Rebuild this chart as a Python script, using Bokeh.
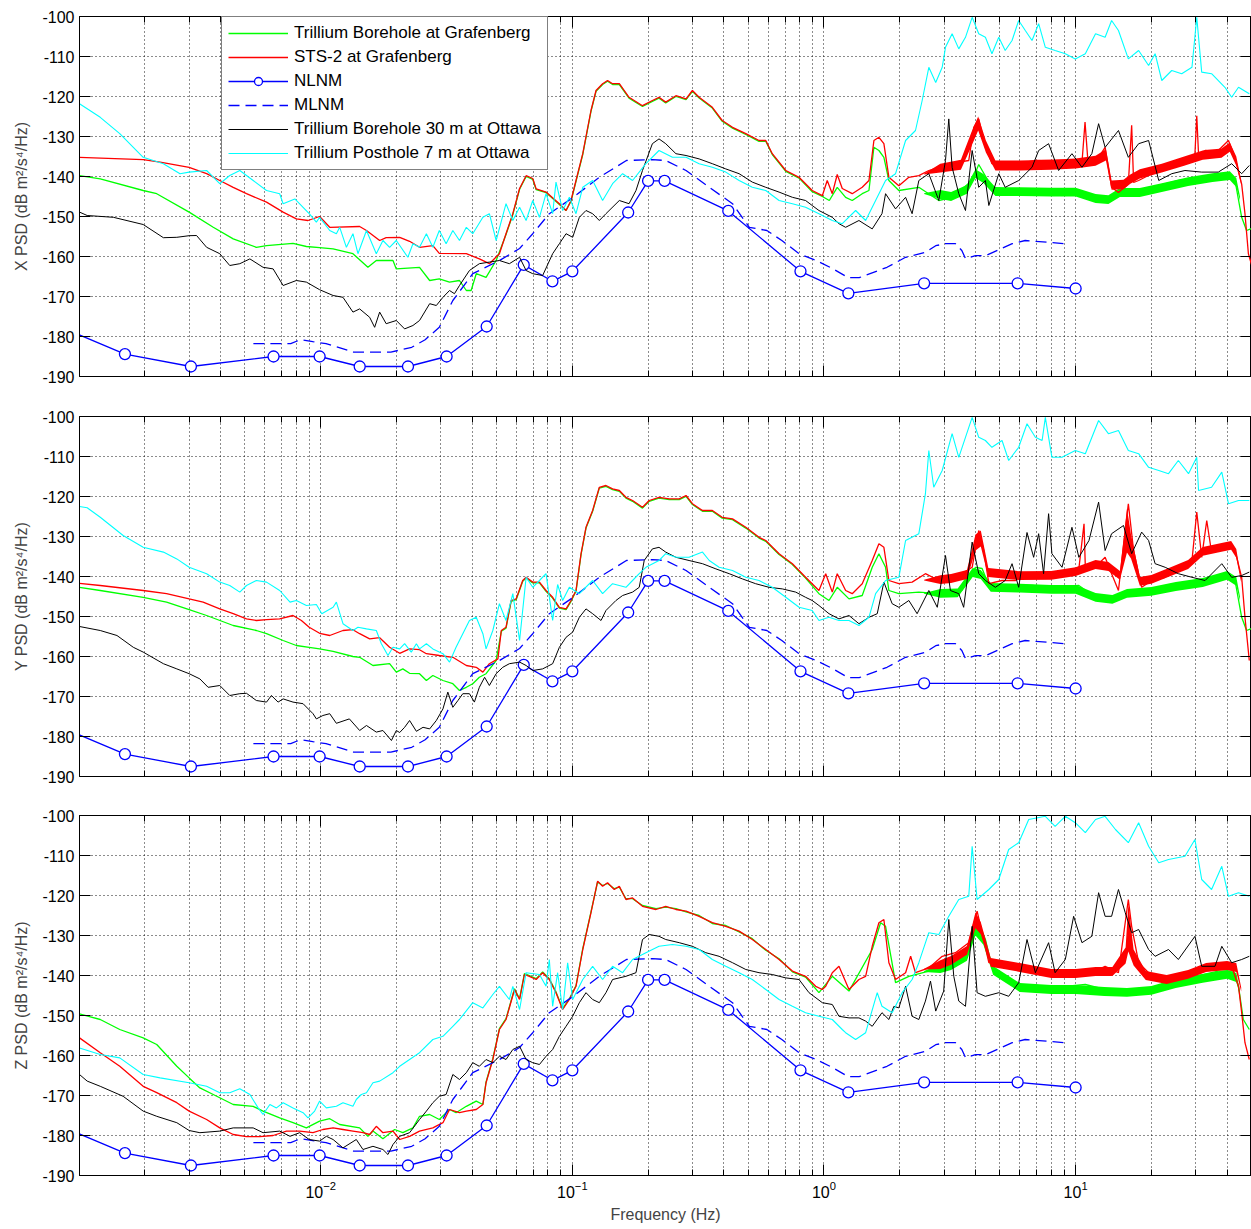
from bokeh.plotting import figure
from bokeh.models import (Range1d, FixedTicker, LogAxis, LinearAxis, Legend, LegendItem,
                          CustomJSTickFormatter)
from bokeh.layouts import column
from bokeh.embed import file_html
from bokeh.resources import INLINE

FONT = "Liberation Sans"

# ---------------- data: (frequency Hz, PSD dB) ----------------
NLNM = [(0.0001, -151.9), (0.001667, -184.4), (0.003049, -187.5), (0.006494, -185.0), (0.009901, -185.0),
        (0.014286, -187.5), (0.022222, -187.5), (0.031646, -185.0), (0.045662, -177.5), (0.064103, -162.1),
        (0.083333, -166.2), (0.1, -163.7), (0.166667, -149.0), (0.2, -141.1), (0.232558, -141.1),
        (0.416667, -148.6), (0.806452, -163.7), (1.25, -169.2), (2.5, -166.7), (5.882353, -166.7), (10.0, -168.0)]

MLNM = [(0.0054, -181.8), (0.0076, -181.8), (0.0083, -180.8), (0.0093, -181.3), (0.0105, -181.8), (0.0135, -183.9),
        (0.0190, -183.9), (0.0230, -182.7), (0.0260, -180.8), (0.0296, -177.7), (0.0335, -171.0), (0.0402, -164.3),
        (0.0513, -161.0), (0.0617, -158.0), (0.0696, -154.3), (0.081, -149.3), (0.1003, -145.3), (0.128, -140.2),
        (0.164, -136.0), (0.208, -135.8), (0.235, -136.0), (0.283, -138.5), (0.35, -142.7), (0.433, -146.8),
        (0.505, -152.7), (0.593, -153.5), (0.68, -156.0), (0.796, -159.3), (0.93, -161.0), (1.08, -163.0),
        (1.25, -165.3), (1.38, -165.3), (1.78, -162.7), (2.11, -160.2), (2.54, -158.9), (2.78, -157.3),
        (3.04, -156.8), (3.33, -156.8), (3.53, -158.5), (3.65, -160.5), (4.0, -159.8), (4.38, -159.8),
        (4.95, -158.3), (5.6, -156.8), (6.3, -156.0), (8.0, -156.5), (9.1, -156.8)]

# ---- X component ----
X_GREEN = [(0.0011, -139.8), (0.00133, -140.6), (0.00197, -143.5), (0.00223, -144.3), (0.0030, -148.9), (0.00374, -152.7),
           (0.00449, -155.6), (0.00555, -157.7), (0.00609, -157.3), (0.00776, -156.7), (0.00877, -157.5), (0.0099, -157.8),
           (0.0112, -158.1), (0.01343, -159.3), (0.0154, -162.7), (0.01663, -161.0), (0.01937, -161.0), (0.01997, -163.1),
           (0.0247, -162.7), (0.0271, -166.0), (0.0296, -165.6), (0.0325, -166.4), (0.0356, -166.0), (0.0379, -168.5),
           (0.0396, -168.5), (0.0415, -164.3), (0.0454, -165.2), (0.0498, -161.0), (0.0545, -154.5), (0.0580, -149.5),
           (0.0617, -143.2), (0.0655, -140.0), (0.0696, -140.7), (0.0718, -143.3), (0.0786, -144.0), (0.0888, -147.0),
           (0.0944, -148.5), (0.0988, -146.2), (0.1034, -141.2), (0.110, -134.5), (0.1186, -123.7), (0.1242, -118.7),
           (0.1319, -117.0), (0.138, -116.2), (0.1445, -117.0), (0.1537, -117.0), (0.168, -120.4), (0.190, -122.5),
           (0.208, -121.2), (0.221, -120.4), (0.235, -121.6), (0.258, -120.0), (0.283, -120.8), (0.300, -118.7),
           (0.319, -120.4), (0.360, -122.9), (0.394, -126.2), (0.433, -127.9), (0.489, -129.5), (0.552, -131.2),
           (0.587, -131.2), (0.623, -134.5), (0.705, -138.7), (0.796, -140.4), (0.898, -143.8), (0.985, -145.0),
           (1.05, -146.0), (1.129, -142.7), (1.219, -145.2), (1.295, -146.0), (1.419, -144.3), (1.509, -143.5),
           (1.579, -132.7), (1.653, -133.5), (1.730, -135.2), (1.811, -141.0), (1.984, -143.5), (2.382, -142.7),
           (2.86, -146.0), (3.23, -145.2), (3.88, -141.0), (4.121, -137.0), (4.65, -142.7), (5.25, -143.0),
           (5.94, -143.8), (6.92, -143.5), (8.05, -143.9), (9.67, -143.5), (11.6, -145.2), (13.1, -146.0),
           (14.8, -143.5), (16.2, -144.3), (20.1, -142.7), (25.6, -141.0), (31.7, -140.2), (39.2, -139.3),
           (43.0, -141.0), (45.7, -150.2), (47.8, -153.5), (50.0, -153.0)]

X_RED = [(0.0011, -135.2), (0.00197, -135.8), (0.0023, -136.4), (0.0030, -137.7), (0.00352, -139.3), (0.00397, -141.0),
         (0.00449, -142.7), (0.00507, -144.3), (0.00609, -146.4), (0.00709, -148.9), (0.0080, -150.6), (0.0089, -151.0),
         (0.0099, -150.0), (0.01086, -152.7), (0.01428, -152.5), (0.0152, -153.5), (0.01715, -156.0), (0.0182, -155.3),
         (0.0206, -155.2), (0.02255, -156.2), (0.0247, -157.7), (0.0279, -157.3), (0.0296, -159.2), (0.0379, -159.3),
         (0.0427, -160.6), (0.0468, -161.8), (0.0513, -159.3), (0.0545, -154.3), (0.0580, -149.3), (0.0617, -143.0),
         (0.0655, -139.8), (0.0696, -140.5), (0.0718, -143.1), (0.0786, -143.9), (0.0888, -146.8), (0.0944, -148.5),
         (0.0988, -146.0), (0.1034, -141.0), (0.110, -134.3), (0.1186, -123.5), (0.1242, -118.5), (0.1319, -116.8),
         (0.138, -116.0), (0.1445, -116.8), (0.1537, -116.8), (0.168, -120.2), (0.190, -122.3), (0.208, -121.0),
         (0.221, -120.2), (0.235, -121.4), (0.258, -119.8), (0.283, -120.6), (0.300, -118.5), (0.319, -120.2),
         (0.360, -122.7), (0.394, -126.0), (0.433, -127.7), (0.489, -129.3), (0.552, -131.0), (0.587, -131.0),
         (0.623, -134.3), (0.705, -138.5), (0.796, -140.2), (0.898, -143.5), (0.985, -144.8), (1.03, -141.0),
         (1.079, -144.3), (1.129, -139.5), (1.182, -143.0), (1.295, -144.3), (1.419, -142.7), (1.509, -141.0),
         (1.579, -131.0), (1.653, -130.2), (1.730, -131.8), (1.811, -140.2), (1.984, -142.3), (2.174, -140.2),
         (2.382, -139.8), (2.61, -138.5), (2.86, -137.7), (3.133, -136.8), (3.433, -136.4), (3.761, -136.0),
         (3.937, -127.7), (4.121, -125.6), (4.314, -131.0), (4.65, -136.8), (5.25, -137.7), (5.94, -136.8),
         (6.92, -136.0), (8.05, -136.0), (9.67, -136.0), (10.6, -136.5), (10.9, -126.4), (11.2, -136.5),
         (12.34, -135.2), (13.1, -132.7), (13.9, -142.7), (14.8, -144.0), (16.2, -141.9), (16.7, -127.2),
         (17.0, -141.5), (17.8, -141.0), (20.1, -139.3), (23.4, -137.7), (27.2, -136.0), (29.8, -134.3),
         (30.3, -124.8), (30.8, -134.5), (32.7, -133.5), (36.9, -133.5), (40.5, -131.0), (43.0, -135.2),
         (45.7, -141.9), (47.1, -149.3), (48.6, -159.3), (50.0, -162.0)]

X_BLACK = [(0.0011, -148.9), (0.00118, -149.75), (0.0015, -150.2), (0.00197, -152.0), (0.00237, -155.3), (0.00268, -155.2),
           (0.0030, -154.8), (0.00321, -154.75), (0.00352, -157.7), (0.00397, -159.3), (0.00435, -162.25), (0.00477, -161.8),
           (0.00523, -160.6), (0.0059, -162.7), (0.00647, -163.1), (0.00709, -167.25), (0.0080, -166.0), (0.00877, -166.4),
           (0.0099, -168.3), (0.0112, -169.75), (0.01226, -170.2), (0.01343, -173.9), (0.01428, -173.1), (0.01565, -175.2),
           (0.01638, -177.7), (0.01715, -173.9), (0.0182, -176.8), (0.01997, -176.0), (0.02155, -178.1), (0.02325, -177.25),
           (0.0247, -176.0), (0.0271, -171.8), (0.0288, -172.25), (0.0306, -170.2), (0.0325, -168.5), (0.0340, -169.3),
           (0.0356, -167.25), (0.0390, -163.5), (0.0427, -161.8), (0.0468, -161.4), (0.0513, -161.0), (0.0562, -161.8),
           (0.0617, -160.2), (0.0655, -163.5), (0.0696, -164.3), (0.0762, -164.75), (0.0835, -159.3), (0.0888, -156.8),
           (0.0944, -154.3), (0.1003, -155.2), (0.1066, -150.2), (0.1133, -148.5), (0.1204, -149.3), (0.128, -151.0),
           (0.136, -149.3), (0.1537, -146.0), (0.168, -146.8), (0.179, -143.5), (0.190, -138.5), (0.208, -131.8),
           (0.221, -130.6), (0.235, -131.8), (0.258, -134.3), (0.283, -134.75), (0.319, -135.6), (0.360, -136.8),
           (0.407, -138.1), (0.460, -139.3), (0.519, -141.4), (0.587, -142.7), (0.663, -143.9), (0.749, -145.2),
           (0.845, -146.0), (0.898, -147.25), (0.955, -148.5), (1.079, -150.2), (1.147, -151.8), (1.219, -152.7),
           (1.377, -151.0), (1.555, -153.1), (1.70, -149.3), (1.757, -144.3), (1.925, -148.1), (2.11, -145.2),
           (2.24, -149.3), (2.382, -141.0), (2.61, -139.3), (2.86, -146.0), (3.04, -136.0), (3.133, -125.6),
           (3.23, -137.7), (3.433, -144.3), (3.65, -148.5), (3.88, -133.5), (4.121, -142.7), (4.38, -141.0),
           (4.52, -147.25), (4.95, -139.3), (5.25, -142.7), (5.94, -141.0), (6.71, -137.7), (7.13, -133.5),
           (7.81, -131.8), (8.56, -138.5), (9.67, -134.3), (10.6, -137.7), (11.6, -134.3), (12.34, -126.8),
           (13.1, -132.7), (14.8, -128.5), (16.2, -135.2), (17.8, -131.8), (19.5, -131.0), (21.4, -141.0),
           (24.1, -139.3), (27.2, -138.5), (31.7, -138.9), (36.9, -138.9), (41.7, -136.8), (45.7, -139.3),
           (49.0, -137.25)]

X_CYAN = [(0.0011, -121.8), (0.00133, -125.2), (0.00159, -129.3), (0.00197, -135.2), (0.00237, -136.8), (0.00276, -139.3),
          (0.0030, -138.9), (0.00352, -138.5), (0.00397, -141.8), (0.00435, -139.75), (0.00477, -138.5), (0.00539, -141.0),
          (0.00609, -143.5), (0.00687, -144.3), (0.00709, -146.8), (0.00789, -145.6), (0.0090, -149.3), (0.00961, -151.4),
          (0.0099, -150.2), (0.01086, -153.5), (0.01154, -154.3), (0.0119, -152.7), (0.01265, -157.7), (0.01343, -154.3),
          (0.01406, -159.3), (0.0152, -153.5), (0.01663, -159.3), (0.01767, -156.0), (0.01878, -157.7), (0.01997, -156.0),
          (0.0222, -160.2), (0.02325, -156.8), (0.0247, -157.7), (0.0263, -154.3), (0.0279, -157.7), (0.0296, -153.5),
          (0.0315, -156.8), (0.0335, -153.5), (0.0356, -156.0), (0.0379, -152.7), (0.0402, -154.3), (0.0441, -150.2),
          (0.0468, -149.3), (0.0498, -156.0), (0.0545, -146.8), (0.0580, -151.0), (0.0617, -147.7), (0.0655, -151.0),
          (0.0696, -146.0), (0.0740, -150.2), (0.0786, -144.3), (0.0835, -149.3), (0.0861, -141.4), (0.0915, -148.5),
          (0.0973, -145.2), (0.1034, -149.3), (0.110, -142.7), (0.1204, -141.0), (0.1319, -146.0), (0.1445, -141.8),
          (0.1584, -139.3), (0.1735, -141.0), (0.196, -136.8), (0.221, -133.5), (0.250, -135.2), (0.283, -135.2),
          (0.319, -136.8), (0.360, -137.7), (0.407, -138.9), (0.460, -141.0), (0.519, -142.7), (0.587, -143.5),
          (0.663, -146.0), (0.749, -146.8), (0.845, -147.7), (0.955, -149.3), (1.079, -151.0), (1.182, -151.8),
          (1.336, -148.5), (1.464, -151.0), (1.604, -146.0), (1.757, -141.0), (1.925, -139.3), (2.11, -131.0),
          (2.31, -128.5), (2.456, -121.0), (2.61, -112.7), (2.78, -116.5), (2.95, -112.7), (3.04, -107.7),
          (3.23, -104.3), (3.433, -108.1), (3.65, -105.2), (3.88, -100.2), (4.121, -104.3), (4.38, -105.2),
          (4.65, -109.3), (4.95, -105.2), (5.25, -108.5), (5.59, -106.0), (5.94, -101.0), (6.31, -103.5),
          (6.71, -106.0), (7.13, -101.8), (7.58, -107.7), (8.29, -108.5), (9.10, -109.3), (9.97, -110.6),
          (10.93, -109.3), (12.0, -104.3), (13.1, -105.2), (13.9, -101.0), (14.8, -103.5), (16.2, -110.6),
          (17.8, -108.5), (19.5, -112.25), (20.7, -109.3), (22.0, -116.0), (24.1, -113.5), (26.4, -114.3),
          (29.0, -112.7), (30.3, -100.2), (31.7, -113.9), (34.7, -114.3), (39.2, -117.7), (41.7, -120.2),
          (44.4, -117.7), (49.0, -119.3)]

# noisy high-frequency bands: (frequency Hz, lower dB, upper dB)
X_GREEN_BAND = [(2.5, -144.4, -144.2), (2.9, -145.6, -143.4), (3.2, -146.1, -143.9), (3.7, -144.3, -142.1),
                (4.0, -140.4, -138.2), (4.3, -141.6, -139.4), (4.8, -144.9, -142.7), (6.0, -144.9, -142.7),
                (8.0, -145.0, -142.8), (10.0, -145.0, -142.8), (12.0, -146.6, -144.4), (13.5, -146.9, -144.7),
                (15.0, -145.1, -142.9), (18.0, -145.1, -142.9), (22.0, -143.9, -141.7), (28.0, -142.4, -140.2),
                (35.0, -141.4, -139.2), (41.0, -140.9, -138.7), (43.5, -142.6, -140.4), (45.0, -146.0, -145.0)]
X_RED_BAND = [(2.5, -139.5, -139.3), (2.9, -139.0, -136.8), (3.5, -138.3, -135.8), (3.85, -132.5, -129.0),
              (4.1, -128.5, -125.0), (4.4, -134.0, -131.0), (4.8, -138.5, -136.0), (6.0, -138.5, -136.0),
              (8.0, -138.3, -135.8), (10.0, -138.0, -135.5), (12.0, -137.3, -134.8), (13.2, -136.0, -133.2),
              (13.9, -143.3, -141.0), (15.5, -143.2, -140.8), (16.5, -141.8, -139.5), (18.0, -140.5, -138.2),
              (22.0, -139.0, -136.8), (27.0, -137.3, -135.0), (32.0, -135.8, -133.5), (38.0, -135.3, -133.0),
              (41.0, -133.8, -131.5), (43.5, -137.3, -135.0), (45.5, -142.0, -141.0)]

# ---- Y component ----
Y_GREEN = [(0.0011, -142.7), (0.00133, -143.5), (0.00197, -145.2), (0.00244, -146.4), (0.0030, -148.3), (0.00352, -149.75),
           (0.00449, -152.25), (0.00555, -153.5), (0.00609, -154.3), (0.00709, -156.0), (0.0080, -157.25), (0.0090, -157.7),
           (0.0099, -158.1), (0.0112, -158.7), (0.01343, -160.0), (0.01428, -160.2), (0.01613, -162.25), (0.01878, -161.8),
           (0.01997, -163.9), (0.0212, -163.1), (0.02255, -164.2), (0.0247, -164.3), (0.0263, -166.0), (0.0279, -164.75),
           (0.0306, -166.0), (0.0335, -166.8), (0.0356, -168.5), (0.0379, -167.7), (0.0402, -166.8), (0.0427, -165.2),
           (0.0454, -164.3), (0.0498, -161.0), (0.0522, -153.7), (0.0545, -152.9), (0.0571, -146.2), (0.0598, -145.8),
           (0.0635, -141.2), (0.0655, -140.4), (0.0696, -141.6), (0.0740, -141.6), (0.0786, -143.7), (0.0835, -145.4),
           (0.0888, -147.9), (0.0944, -148.3), (0.0988, -146.2), (0.1034, -143.7), (0.1083, -134.5), (0.1133, -127.9),
           (0.1204, -123.7), (0.128, -117.9), (0.136, -117.45), (0.1445, -118.3), (0.1537, -118.7), (0.1633, -120.4),
           (0.1735, -121.2), (0.190, -122.9), (0.202, -121.2), (0.221, -120.4), (0.243, -120.8), (0.266, -120.8),
           (0.283, -119.95), (0.300, -122.0), (0.329, -123.7), (0.360, -123.7), (0.394, -125.4), (0.433, -125.8),
           (0.489, -127.9), (0.552, -130.4), (0.587, -131.2), (0.663, -134.5), (0.749, -137.0), (0.845, -140.4),
           (0.955, -144.3), (1.047, -146.0), (1.129, -142.7), (1.257, -145.6), (1.419, -144.75), (1.555, -137.7),
           (1.653, -134.3), (1.757, -137.7), (1.811, -143.5), (1.984, -144.3), (2.382, -143.9), (2.86, -144.3),
           (3.53, -143.5), (4.0, -137.7), (4.25, -138.0), (4.52, -142.25), (5.25, -142.25), (6.71, -142.25),
           (8.05, -142.7), (10.3, -142.25), (12.0, -145.2), (13.5, -146.0), (15.75, -143.9), (20.1, -143.5),
           (25.6, -141.8), (31.7, -141.0), (39.2, -139.3), (43.0, -141.0), (45.7, -150.2), (47.8, -153.5),
           (50.0, -153.0)]

Y_RED = [(0.0011, -141.7), (0.00133, -142.25), (0.00197, -143.5), (0.00244, -144.3), (0.0030, -145.6), (0.00341, -146.4),
         (0.00397, -148.1), (0.00449, -149.3), (0.00507, -150.6), (0.00555, -151.0), (0.00609, -150.8), (0.00687, -150.6),
         (0.00776, -149.75), (0.00838, -151.0), (0.0090, -152.7), (0.0099, -154.2), (0.01086, -154.75), (0.01226, -153.5),
         (0.01343, -153.3), (0.01428, -154.3), (0.01565, -155.6), (0.01715, -155.3), (0.01878, -157.7), (0.0206, -159.2),
         (0.02255, -158.1), (0.0247, -158.3), (0.0263, -159.3), (0.0296, -159.75), (0.0335, -160.2), (0.0379, -162.25),
         (0.0415, -162.7), (0.0441, -163.9), (0.0468, -161.8), (0.0506, -160.6), (0.0522, -153.5), (0.0545, -152.7),
         (0.0571, -146.0), (0.0598, -145.6), (0.0635, -141.0), (0.0655, -140.2), (0.0696, -141.4), (0.0740, -141.4),
         (0.0786, -143.5), (0.0835, -145.2), (0.0888, -147.7), (0.0944, -148.1), (0.0988, -146.0), (0.1034, -143.5),
         (0.1083, -134.3), (0.1133, -127.7), (0.1204, -123.5), (0.128, -117.7), (0.136, -117.25), (0.1445, -118.1),
         (0.1537, -118.5), (0.1633, -120.2), (0.1735, -121.0), (0.190, -122.7), (0.202, -121.0), (0.221, -120.2),
         (0.243, -120.6), (0.266, -120.6), (0.283, -119.75), (0.300, -121.8), (0.329, -123.5), (0.360, -123.5),
         (0.394, -125.2), (0.433, -125.6), (0.489, -127.7), (0.552, -130.2), (0.587, -131.0), (0.663, -134.3),
         (0.749, -136.8), (0.845, -140.2), (0.955, -143.5), (1.016, -139.3), (1.079, -143.9), (1.129, -139.3),
         (1.219, -143.5), (1.295, -144.3), (1.419, -141.8), (1.555, -136.0), (1.653, -131.8), (1.730, -132.7),
         (1.811, -141.0), (1.984, -141.8), (2.24, -141.4), (2.53, -139.3), (2.86, -141.0), (3.23, -140.2),
         (3.53, -139.3), (3.88, -137.7), (4.121, -128.5), (4.314, -133.5), (4.52, -141.8), (5.10, -141.0),
         (5.77, -141.0), (6.31, -139.3), (7.13, -140.2), (8.05, -139.3), (9.10, -138.5), (10.3, -138.1),
         (10.8, -126.8), (10.93, -137.7), (12.34, -136.8), (13.1, -135.2), (13.9, -139.3), (14.8, -143.5),
         (16.2, -121.8), (17.0, -133.5), (18.3, -142.7), (20.1, -141.0), (22.7, -140.2), (25.6, -137.7),
         (29.0, -136.0), (30.3, -123.9), (31.7, -135.2), (33.2, -126.0), (34.7, -134.0), (39.2, -131.8),
         (43.0, -133.5), (45.7, -140.2), (47.1, -150.2), (49.0, -161.0)]

Y_BLACK = [(0.0011, -152.5), (0.00133, -153.5), (0.00155, -154.75), (0.0018, -157.7), (0.00197, -158.9), (0.00237, -161.8),
           (0.00268, -163.1), (0.0030, -164.3), (0.00331, -165.6), (0.00357, -167.7), (0.00397, -167.25), (0.00435, -169.75),
           (0.00477, -169.3), (0.00507, -169.2), (0.00555, -171.0), (0.00609, -171.4), (0.00637, -169.75), (0.00677, -171.4),
           (0.00709, -170.6), (0.00776, -171.4), (0.00851, -171.8), (0.00932, -174.3), (0.00961, -175.6), (0.0102, -174.75),
           (0.01086, -174.3), (0.01154, -176.7), (0.0130, -175.6), (0.01428, -178.5), (0.0152, -177.25), (0.01663, -178.9),
           (0.01767, -178.5), (0.0191, -181.0), (0.01997, -178.5), (0.0206, -179.0), (0.02155, -177.7), (0.02255, -176.0),
           (0.0240, -178.7), (0.0255, -177.7), (0.0271, -178.1), (0.0288, -176.0), (0.0306, -173.1), (0.0320, -168.9),
           (0.0335, -172.7), (0.0351, -171.0), (0.0367, -169.3), (0.0390, -169.3), (0.0408, -171.4), (0.0427, -167.7),
           (0.0448, -165.2), (0.0468, -167.25), (0.0498, -164.3), (0.0529, -162.7), (0.0562, -161.8), (0.0617, -161.4),
           (0.0655, -162.25), (0.0696, -163.5), (0.0762, -163.1), (0.0835, -161.8), (0.0888, -157.7), (0.0944, -155.2),
           (0.1003, -153.9), (0.1066, -150.2), (0.1133, -148.1), (0.1204, -149.3), (0.130, -151.0), (0.136, -148.5),
           (0.149, -146.0), (0.1584, -144.75), (0.1735, -143.9), (0.1844, -142.7), (0.193, -136.0), (0.208, -133.1),
           (0.221, -132.7), (0.235, -133.9), (0.258, -135.2), (0.291, -136.0), (0.329, -136.8), (0.372, -138.1),
           (0.420, -139.3), (0.474, -140.6), (0.535, -141.8), (0.605, -142.7), (0.683, -143.1), (0.772, -143.9),
           (0.845, -145.2), (0.898, -146.0), (0.955, -147.25), (1.047, -149.3), (1.147, -150.6), (1.257, -149.75),
           (1.377, -151.8), (1.509, -150.2), (1.628, -149.3), (1.730, -141.4), (1.866, -146.8), (1.984, -147.7),
           (2.174, -146.0), (2.345, -149.3), (2.61, -143.5), (2.82, -147.7), (3.04, -134.75), (3.18, -143.5),
           (3.433, -144.3), (3.59, -147.7), (3.88, -131.4), (4.121, -139.3), (4.38, -141.0), (4.80, -142.7),
           (5.25, -141.0), (5.59, -136.8), (5.94, -142.7), (6.41, -129.0), (6.81, -135.2), (7.13, -129.3),
           (7.46, -139.3), (7.81, -124.3), (8.05, -134.3), (8.83, -137.7), (9.67, -127.7), (10.3, -135.2),
           (11.3, -131.0), (12.34, -121.4), (13.1, -133.5), (13.9, -129.3), (15.5, -127.25), (16.7, -134.3),
           (18.3, -128.9), (19.5, -131.0), (20.7, -136.8), (22.7, -137.7), (25.6, -139.3), (29.0, -140.2),
           (32.7, -141.0), (38.1, -136.8), (41.7, -140.2), (45.7, -139.75), (49.0, -138.9)]

Y_CYAN = [(0.0011, -122.5), (0.00118, -122.8), (0.00133, -125.2), (0.00164, -129.75), (0.00197, -132.7), (0.00237, -133.9),
          (0.00268, -135.6), (0.0030, -137.7), (0.00352, -139.3), (0.00397, -141.4), (0.00435, -142.25), (0.00477, -143.9),
          (0.00507, -142.25), (0.00555, -141.0), (0.00609, -141.4), (0.00687, -143.5), (0.00755, -146.4), (0.0080, -146.0),
          (0.00877, -147.25), (0.00961, -147.0), (0.0101, -149.3), (0.0112, -147.7), (0.01154, -146.4), (0.01226, -151.8),
          (0.01343, -153.5), (0.01406, -152.7), (0.0152, -153.1), (0.01663, -153.5), (0.01742, -156.8), (0.0185, -159.75),
          (0.01937, -157.7), (0.0206, -158.1), (0.02155, -156.8), (0.0229, -158.9), (0.0240, -156.8), (0.0247, -158.1),
          (0.0263, -156.8), (0.0279, -158.1), (0.0306, -159.3), (0.0325, -161.4), (0.0345, -157.7), (0.0367, -154.3),
          (0.0390, -151.0), (0.0415, -150.2), (0.0441, -154.3), (0.0454, -158.1), (0.0483, -153.5), (0.0513, -146.8),
          (0.0545, -151.0), (0.0580, -144.3), (0.0617, -156.0), (0.0655, -140.2), (0.0696, -142.7), (0.0740, -141.0),
          (0.0786, -139.3), (0.0835, -151.0), (0.0874, -142.0), (0.0915, -146.0), (0.0973, -142.7), (0.1066, -144.3),
          (0.1204, -141.0), (0.1319, -144.3), (0.1445, -141.8), (0.1633, -142.7), (0.1735, -141.0), (0.1844, -139.3),
          (0.196, -137.7), (0.221, -136.0), (0.235, -134.3), (0.258, -135.2), (0.291, -135.2), (0.329, -133.9),
          (0.350, -136.0), (0.383, -137.7), (0.433, -138.5), (0.489, -140.2), (0.552, -141.0), (0.623, -142.7),
          (0.705, -145.2), (0.796, -147.7), (0.898, -148.5), (0.955, -151.0), (1.047, -150.2), (1.147, -151.0),
          (1.257, -151.0), (1.377, -152.25), (1.509, -150.2), (1.604, -144.3), (1.757, -141.0), (1.984, -140.2),
          (2.11, -131.0), (2.382, -129.3), (2.53, -119.3), (2.61, -108.5), (2.73, -117.7), (2.95, -113.5),
          (3.23, -104.3), (3.433, -110.2), (3.65, -105.2), (3.88, -100.2), (4.121, -105.2), (4.38, -106.0),
          (4.65, -107.7), (5.10, -106.0), (5.42, -111.0), (5.94, -107.7), (6.41, -101.8), (6.92, -105.2),
          (7.36, -106.0), (7.58, -100.2), (8.05, -110.2), (8.83, -110.2), (9.97, -108.5), (10.93, -109.3),
          (12.34, -101.0), (13.5, -104.3), (14.8, -103.5), (16.2, -108.5), (17.8, -109.3), (19.5, -112.7),
          (21.4, -113.5), (23.4, -114.3), (25.6, -111.0), (28.1, -114.3), (30.3, -110.2), (30.8, -118.5),
          (34.7, -117.7), (38.1, -113.9), (40.5, -121.8), (44.4, -121.0), (49.0, -121.0)]

Y_GREEN_BAND = [(2.5, -144.3, -144.1), (2.9, -145.3, -143.1), (3.4, -145.2, -143.0), (3.9, -140.1, -137.9),
                (4.2, -140.6, -138.4), (4.6, -143.8, -141.6), (6.0, -144.0, -141.8), (8.0, -144.3, -142.1),
                (10.0, -144.3, -142.1), (12.0, -146.3, -144.1), (14.0, -146.8, -144.6), (16.0, -145.3, -143.1),
                (20.0, -144.8, -142.6), (25.0, -143.6, -141.4), (32.0, -142.6, -140.4), (40.0, -140.8, -138.6),
                (43.5, -142.3, -140.1), (45.0, -146.0, -145.0)]
Y_RED_BAND = [(2.5, -141.0, -140.8), (2.9, -141.9, -139.7), (3.2, -141.6, -139.4), (3.7, -140.6, -138.4),
              (4.0, -133.5, -129.5), (4.2, -132.5, -128.5), (4.5, -140.1, -137.9), (6.0, -140.9, -138.7),
              (8.0, -140.8, -138.6), (10.0, -139.9, -137.7), (12.0, -138.1, -135.9), (13.5, -138.6, -136.4),
              (15.0, -140.8, -138.6), (16.0, -134.0, -123.0), (16.6, -135.5, -129.5), (18.0, -142.3, -140.1),
              (20.0, -141.8, -139.6), (24.0, -139.8, -137.6), (28.0, -138.1, -135.9), (32.0, -134.8, -132.6),
              (38.0, -133.8, -131.6), (41.5, -133.3, -131.1), (43.5, -135.3, -133.1), (45.5, -141.5, -140.5)]

# ---- Z component ----
Z_GREEN = [(0.0011, -149.6), (0.00133, -151.0), (0.00159, -153.5), (0.00197, -155.6), (0.00223, -157.25), (0.00268, -162.7),
           (0.0030, -165.6), (0.00331, -168.1), (0.00374, -169.75), (0.00449, -172.25), (0.00539, -172.7), (0.0059, -173.9),
           (0.00687, -175.6), (0.00776, -176.8), (0.00877, -178.1), (0.0099, -176.4), (0.01086, -175.8), (0.0119, -177.25),
           (0.01428, -178.1), (0.0154, -180.2), (0.01613, -178.9), (0.01767, -180.8), (0.01967, -178.5), (0.0212, -179.3),
           (0.02325, -178.1), (0.0247, -175.2), (0.0271, -174.75), (0.0296, -176.0), (0.0325, -173.5), (0.0345, -174.3),
           (0.0379, -172.7), (0.0415, -171.4), (0.0441, -172.25), (0.0454, -166.6), (0.0483, -160.8), (0.0513, -153.3),
           (0.0545, -150.8), (0.0589, -143.3), (0.0617, -145.8), (0.0645, -139.5), (0.0675, -140.0), (0.0718, -140.8),
           (0.0762, -139.1), (0.081, -140.8), (0.0861, -144.1), (0.0915, -148.3), (0.0973, -145.8), (0.1034, -142.5),
           (0.110, -133.3), (0.1186, -124.1), (0.126, -116.6), (0.1319, -117.5), (0.138, -117.0), (0.1468, -118.3),
           (0.1537, -117.9), (0.1633, -120.8), (0.1735, -120.8), (0.190, -122.5), (0.215, -123.3), (0.235, -122.9),
           (0.258, -123.3), (0.283, -124.1), (0.319, -125.0), (0.360, -127.0), (0.407, -127.5), (0.460, -129.1),
           (0.519, -130.8), (0.587, -133.7), (0.663, -135.8), (0.749, -139.1), (0.845, -140.4), (0.955, -144.3),
           (1.079, -140.2), (1.257, -143.9), (1.555, -133.5), (1.679, -126.8), (1.757, -127.7), (1.925, -141.8),
           (2.174, -140.2), (2.61, -138.9), (3.04, -136.0), (3.65, -134.3), (4.06, -126.0), (4.38, -131.0),
           (4.65, -137.7), (5.25, -141.0), (6.31, -143.9), (7.58, -143.5), (9.10, -142.7), (10.93, -142.25),
           (13.1, -143.5), (15.75, -144.3), (17.8, -143.5), (20.1, -143.5), (24.1, -141.4), (29.8, -140.2),
           (36.9, -138.9), (42.4, -138.9), (44.4, -142.7), (46.4, -151.0), (49.0, -153.5)]

Z_RED = [(0.0011, -155.6), (0.00133, -159.3), (0.00159, -162.7), (0.00197, -167.7), (0.00223, -169.3), (0.00268, -171.8),
         (0.0030, -173.9), (0.00352, -176.0), (0.00397, -178.1), (0.00449, -179.75), (0.00507, -180.3), (0.00572, -180.3),
         (0.00647, -180.0), (0.00731, -178.9), (0.00825, -178.9), (0.00932, -179.3), (0.0102, -178.5), (0.0112, -178.1),
         (0.01226, -178.5), (0.01343, -178.9), (0.01472, -179.3), (0.01565, -179.75), (0.01663, -177.7), (0.01767, -179.3),
         (0.01937, -178.9), (0.0206, -181.0), (0.02255, -180.2), (0.0247, -178.9), (0.0279, -178.1), (0.0306, -176.8),
         (0.0325, -173.5), (0.0356, -174.3), (0.0379, -173.9), (0.0415, -173.5), (0.0441, -172.25), (0.0454, -166.8),
         (0.0483, -161.0), (0.0513, -153.5), (0.0545, -151.0), (0.0589, -143.5), (0.0617, -146.0), (0.0645, -139.75),
         (0.0675, -140.2), (0.0718, -141.0), (0.0762, -139.3), (0.081, -141.0), (0.0861, -144.3), (0.0915, -148.5),
         (0.0973, -146.0), (0.1034, -142.7), (0.110, -133.5), (0.1186, -124.3), (0.126, -116.4), (0.1319, -117.7),
         (0.138, -116.8), (0.1468, -118.5), (0.1537, -117.7), (0.1633, -121.0), (0.1735, -120.6), (0.190, -122.7),
         (0.215, -123.5), (0.235, -122.7), (0.258, -123.5), (0.283, -123.9), (0.319, -125.2), (0.360, -126.8),
         (0.407, -127.7), (0.460, -128.9), (0.519, -131.0), (0.587, -133.5), (0.663, -136.0), (0.749, -138.9),
         (0.845, -140.2), (0.927, -142.7), (0.985, -143.5), (1.016, -142.7), (1.079, -139.3), (1.147, -137.7),
         (1.257, -143.5), (1.377, -141.0), (1.464, -140.2), (1.555, -132.7), (1.653, -126.8), (1.730, -126.0),
         (1.811, -136.8), (1.925, -141.0), (2.11, -139.3), (2.21, -135.2), (2.31, -139.3), (2.61, -138.1),
         (2.95, -135.2), (3.33, -134.3), (3.761, -131.8), (4.06, -123.9), (4.25, -129.3), (4.52, -136.8),
         (4.95, -136.8), (5.59, -137.7), (6.31, -138.5), (7.13, -139.3), (8.05, -139.3), (9.10, -139.3),
         (10.3, -140.2), (11.6, -139.3), (13.1, -137.7), (14.8, -139.3), (16.2, -121.0), (16.7, -127.7),
         (17.8, -136.8), (19.5, -139.3), (21.4, -141.0), (24.1, -141.4), (27.2, -140.2), (31.7, -137.7),
         (36.9, -136.8), (41.7, -137.7), (44.4, -142.7), (45.7, -149.3), (47.1, -156.8), (49.0, -161.0)]

Z_BLACK = [(0.0011, -164.75), (0.00118, -166.4), (0.00133, -167.7), (0.00164, -170.2), (0.00197, -173.9), (0.00223, -175.2),
           (0.00268, -176.8), (0.0030, -178.75), (0.00331, -179.3), (0.00397, -178.9), (0.00449, -178.1), (0.00539, -178.1),
           (0.0059, -179.3), (0.00687, -178.9), (0.00755, -180.2), (0.00825, -179.3), (0.0090, -181.0), (0.0099, -181.4),
           (0.01053, -180.2), (0.0112, -181.0), (0.01226, -183.1), (0.01385, -181.0), (0.01472, -183.5), (0.01613, -182.7),
           (0.01767, -183.5), (0.0185, -184.75), (0.01937, -182.25), (0.0206, -180.2), (0.02255, -179.3), (0.0247, -176.0),
           (0.0263, -173.9), (0.0279, -171.8), (0.0296, -170.2), (0.0315, -169.75), (0.0335, -164.75), (0.0356, -166.0),
           (0.0379, -164.3), (0.0402, -161.8), (0.0427, -162.7), (0.0454, -161.0), (0.0483, -161.8), (0.0513, -160.2),
           (0.0545, -161.0), (0.0580, -158.5), (0.0617, -157.7), (0.0655, -161.0), (0.0696, -161.8), (0.0740, -162.25),
           (0.0786, -160.2), (0.0835, -158.5), (0.0888, -155.2), (0.0944, -152.7), (0.1003, -150.2), (0.1066, -146.8),
           (0.1133, -144.3), (0.1204, -146.0), (0.128, -146.8), (0.136, -144.3), (0.1445, -141.0), (0.1633, -140.2),
           (0.179, -139.3), (0.190, -131.0), (0.202, -129.75), (0.221, -130.2), (0.235, -131.0), (0.266, -131.8),
           (0.300, -132.7), (0.339, -134.3), (0.383, -135.2), (0.433, -136.8), (0.489, -138.5), (0.552, -139.3),
           (0.623, -139.75), (0.705, -140.6), (0.796, -141.0), (0.872, -144.3), (0.985, -146.8), (1.079, -147.25),
           (1.147, -150.2), (1.257, -150.6), (1.377, -150.6), (1.464, -151.4), (1.555, -152.7), (1.70, -149.3),
           (1.811, -151.0), (1.896, -147.7), (1.984, -148.1), (2.11, -142.7), (2.24, -150.2), (2.382, -151.0),
           (2.53, -146.4), (2.65, -141.4), (2.78, -148.9), (2.99, -143.9), (3.133, -126.0), (3.28, -140.2),
           (3.433, -146.4), (3.65, -147.7), (3.88, -127.7), (4.06, -144.3), (4.38, -145.2), (4.95, -144.3),
           (5.42, -145.2), (5.94, -141.8), (6.41, -131.0), (6.92, -139.3), (7.81, -131.8), (8.29, -139.3),
           (9.10, -136.0), (9.82, -125.2), (10.6, -131.8), (11.6, -130.2), (12.34, -119.3), (13.1, -125.2),
           (13.9, -125.2), (14.8, -118.5), (15.75, -124.3), (16.7, -129.3), (17.8, -128.5), (19.5, -133.5),
           (20.7, -135.2), (23.4, -133.5), (25.6, -136.0), (29.8, -130.2), (31.7, -137.7), (35.8, -137.7),
           (38.1, -132.7), (41.7, -136.8), (45.7, -136.0), (49.0, -135.2)]

Z_CYAN = [(0.0011, -158.1), (0.00133, -159.75), (0.00159, -160.6), (0.00197, -164.75), (0.0023, -165.6), (0.0030, -166.8),
          (0.00352, -167.7), (0.00397, -169.3), (0.00435, -169.3), (0.00477, -168.3), (0.00523, -169.75), (0.00564, -173.1),
          (0.0059, -174.75), (0.00628, -172.25), (0.00667, -173.1), (0.00709, -171.8), (0.00776, -173.1), (0.00851, -174.3),
          (0.0089, -175.6), (0.00946, -173.9), (0.0099, -171.4), (0.01053, -173.1), (0.01154, -172.7), (0.01226, -171.8),
          (0.01343, -172.7), (0.01385, -171.0), (0.0145, -169.75), (0.0152, -169.3), (0.01613, -166.8), (0.01715, -166.4),
          (0.01937, -164.3), (0.0206, -162.7), (0.02255, -161.0), (0.0247, -159.3), (0.0279, -156.0), (0.0306, -155.2),
          (0.0335, -152.7), (0.0356, -151.0), (0.0402, -146.8), (0.0441, -148.1), (0.0483, -144.75), (0.0513, -142.7),
          (0.0562, -146.0), (0.0580, -142.7), (0.0617, -148.5), (0.0655, -139.3), (0.0740, -139.75), (0.0786, -142.7),
          (0.081, -136.0), (0.0835, -147.7), (0.0874, -139.3), (0.0915, -148.5), (0.0958, -136.8), (0.1003, -146.0),
          (0.110, -141.0), (0.1204, -137.7), (0.1319, -141.0), (0.1445, -137.7), (0.1584, -139.3), (0.1735, -136.0),
          (0.196, -134.3), (0.221, -132.7), (0.250, -132.25), (0.283, -132.7), (0.319, -133.5), (0.360, -136.0),
          (0.407, -137.7), (0.460, -139.3), (0.519, -141.0), (0.587, -143.5), (0.663, -146.0), (0.749, -147.7),
          (0.845, -149.3), (0.955, -150.2), (1.079, -151.0), (1.182, -153.5), (1.219, -154.3), (1.336, -156.0),
          (1.464, -154.3), (1.628, -144.3), (1.70, -147.7), (1.866, -149.3), (2.045, -144.3), (2.24, -141.0),
          (2.382, -136.8), (2.61, -129.3), (2.86, -129.75), (3.133, -125.2), (3.433, -121.0), (3.761, -120.2),
          (3.88, -107.7), (4.06, -121.0), (4.52, -118.5), (4.95, -116.0), (5.42, -108.5), (5.94, -106.8),
          (6.51, -101.0), (7.58, -100.2), (8.29, -102.7), (9.10, -100.2), (9.97, -101.8), (10.93, -104.3),
          (12.0, -101.0), (13.1, -100.2), (14.4, -103.5), (16.2, -106.8), (17.8, -101.8), (19.5, -107.7),
          (21.4, -111.8), (23.4, -111.0), (27.2, -110.2), (29.8, -106.0), (31.7, -116.0), (34.7, -118.5),
          (38.1, -112.7), (40.5, -120.2), (44.4, -119.3), (49.0, -120.2)]

Z_GREEN_BAND = [(2.5, -139.1, -138.9), (2.9, -139.4, -137.2), (3.2, -138.6, -136.4), (3.7, -136.3, -134.1),
                (4.0, -130.0, -126.5), (4.3, -132.3, -130.1), (4.7, -139.8, -137.6), (6.0, -144.1, -141.9),
                (8.0, -144.6, -142.4), (10.0, -144.6, -142.4), (13.0, -145.1, -142.9), (16.0, -145.3, -143.1),
                (20.0, -144.8, -142.6), (25.0, -143.1, -140.9), (32.0, -141.8, -139.6), (40.0, -140.8, -138.6),
                (43.5, -141.6, -139.4), (45.0, -145.0, -144.0)]
Z_RED_BAND = [(2.5, -138.5, -138.3), (2.9, -138.4, -136.2), (3.2, -137.3, -135.1), (3.7, -134.8, -132.6),
              (4.0, -128.2, -124.2), (4.2, -129.7, -126.7), (4.6, -137.8, -135.6), (6.0, -139.1, -136.9),
              (8.0, -140.6, -138.4), (10.0, -140.6, -138.4), (12.0, -140.1, -137.9), (14.0, -140.1, -137.9),
              (15.8, -137.0, -133.0), (16.2, -134.0, -122.0), (17.0, -137.5, -133.5), (19.0, -141.1, -138.9),
              (23.0, -142.1, -139.9), (28.0, -140.8, -138.6), (33.0, -139.1, -136.9), (40.0, -138.6, -136.4),
              (43.5, -139.1, -136.9), (45.5, -144.0, -143.0)]

# ---------------- ticks / labels ----------------
X_MAJOR = [0.01, 0.1, 1.0, 10.0]
X_MINOR = [0.002, 0.003, 0.004, 0.005, 0.006, 0.007, 0.008, 0.009,
           0.02, 0.03, 0.04, 0.05, 0.06, 0.07, 0.08, 0.09,
           0.2, 0.3, 0.4, 0.5, 0.6, 0.7, 0.8, 0.9,
           2, 3, 4, 5, 6, 7, 8, 9, 20, 30, 40]
Y_TICKS = [-190, -180, -170, -160, -150, -140, -130, -120, -110, -100]

LEGEND_LABELS = ["Trillium Borehole at Grafenberg", "STS-2 at Grafenberg", "NLNM", "MLNM",
                 "Trillium Borehole 30 m at Ottawa", "Trillium Posthole 7 m at Ottawa"]

GREEN, RED, BLUE, BLACK, CYAN = "#00ff00", "#ff0000", "#0000ff", "#000000", "#00ffff"
W = 1251


def xy(pairs):
    return [p[0] for p in pairs], [p[1] for p in pairs]


def band(rows):
    return [r[0] for r in rows], [r[1] for r in rows], [r[2] for r in rows]


def style_axis(ax, ticker, show_labels, minor=True):
    ax.ticker = ticker
    ax.axis_line_color = "black"
    ax.major_tick_line_color = "black"
    ax.minor_tick_line_color = "black" if minor else None
    ax.major_tick_in = 11
    ax.major_tick_out = 0
    ax.minor_tick_in = 6
    ax.minor_tick_out = 0
    ax.major_label_text_font = FONT
    ax.major_label_text_color = "black"
    if show_labels:
        ax.major_label_text_font_size = "16px"
        ax.major_label_standoff = 5
    else:
        ax.formatter = CustomJSTickFormatter(code="return ''")
        ax.major_label_text_font_size = "2px"
        ax.major_label_standoff = 0


def make_panel(comp, series, bands, height, top, bottom, xlabels, legend=False):
    p = figure(width=W, height=height, x_axis_type="log",
               x_range=Range1d(0.0011, 50), y_range=Range1d(-190, -100),
               output_backend="svg", toolbar_location=None,
               min_border_left=79, min_border_right=0, min_border_top=top, min_border_bottom=bottom,
               background_fill_color="white", border_fill_color="white",
               outline_line_color="black", outline_line_width=1)
    p.add_layout(LogAxis(), "above")
    p.add_layout(LinearAxis(), "right")
    xt = FixedTicker(ticks=X_MAJOR, minor_ticks=X_MINOR)
    yt = FixedTicker(ticks=Y_TICKS, minor_ticks=[])
    style_axis(p.below[0], xt, xlabels)
    style_axis(p.above[0], xt, False)
    style_axis(p.left[0], yt, True, minor=False)
    style_axis(p.right[0], yt, False, minor=False)

    yax = p.left[0]
    yax.formatter = CustomJSTickFormatter(code="return tick.toFixed(0)")
    yax.axis_label = comp + " PSD (dB m\u00b2/s\u2074/Hz)"
    yax.axis_label_text_font = FONT
    yax.axis_label_text_font_size = "16px"
    yax.axis_label_text_font_style = "normal"
    yax.axis_label_standoff = 9
    if xlabels:
        xax = p.below[0]
        xax.axis_label = "Frequency (Hz)"
        xax.axis_label_text_font = FONT
        xax.axis_label_text_font_size = "16px"
        xax.axis_label_text_font_style = "normal"
        xax.axis_label_standoff = 5

    for g in (p.xgrid[0], p.ygrid[0]):
        g.grid_line_color = "black"
        g.grid_line_dash = "1 3"
        g.grid_line_alpha = 0.9
    p.xgrid[0].ticker = xt
    p.ygrid[0].ticker = yt
    p.xgrid[0].minor_grid_line_color = "black"
    p.xgrid[0].minor_grid_line_dash = "1 3"
    p.xgrid[0].minor_grid_line_alpha = 0.9

    green, red, black, cyan = series
    green_band, red_band = bands
    gf, glo, ghi = band(green_band)
    p.varea(x=gf, y1=glo, y2=ghi, fill_color=GREEN, fill_alpha=1.0)
    rg = p.line(*xy(green), line_color=GREEN, line_width=1.3)
    rf, rlo, rhi = band(red_band)
    p.varea(x=rf, y1=rlo, y2=rhi, fill_color=RED, fill_alpha=1.0)
    rr = p.line(*xy(red), line_color=RED, line_width=1.3)
    rn = p.line(*xy(NLNM), line_color=BLUE, line_width=1.3)
    rc_ = p.scatter(*xy(NLNM), marker="circle", size=11, line_color=BLUE, fill_color="white", line_width=1.3)
    rm = p.line(*xy(MLNM), line_color=BLUE, line_width=1.3, line_dash="11 6")
    rk = p.line(*xy(black), line_color=BLACK, line_width=1.0)
    rcy = p.line(*xy(cyan), line_color=CYAN, line_width=1.1)

    if legend:
        items = [LegendItem(label=LEGEND_LABELS[0], renderers=[rg]),
                 LegendItem(label=LEGEND_LABELS[1], renderers=[rr]),
                 LegendItem(label=LEGEND_LABELS[2], renderers=[rn, rc_]),
                 LegendItem(label=LEGEND_LABELS[3], renderers=[rm]),
                 LegendItem(label=LEGEND_LABELS[4], renderers=[rk]),
                 LegendItem(label=LEGEND_LABELS[5], renderers=[rcy])]
        lg = Legend(items=items, location=(142, 206), orientation="vertical",
                    label_text_font=FONT, label_text_font_size="17px", label_text_color="black",
                    glyph_width=60, glyph_height=20, label_height=20, spacing=4, padding=6,
                    label_standoff=6, margin=0,
                    border_line_color="black", border_line_width=1.5,
                    background_fill_color="white", background_fill_alpha=1.0)
        p.add_layout(lg)
    return p


p1 = make_panel("X", (X_GREEN, X_RED, X_BLACK, X_CYAN), (X_GREEN_BAND, X_RED_BAND), 396, 16, 20, False, legend=True)
p2 = make_panel("Y", (Y_GREEN, Y_RED, Y_BLACK, Y_CYAN), (Y_GREEN_BAND, Y_RED_BAND), 399, 20, 19, False)
p3 = make_panel("Z", (Z_GREEN, Z_RED, Z_BLACK, Z_CYAN), (Z_GREEN_BAND, Z_RED_BAND), 434, 20, 54, True)

layout = column(p1, p2, p3, spacing=0)
open("out.html", "w").write(file_html(layout, INLINE))
